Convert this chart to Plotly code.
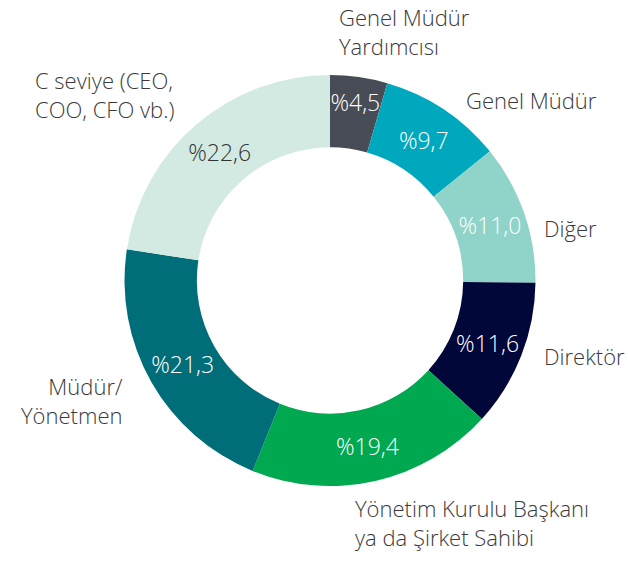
import plotly.graph_objects as go

categories = ["Genel Müdür Yardımcısı", "Genel Müdür", "Diğer", "Direktör",
              "Yönetim Kurulu Başkanı ya da Şirket Sahibi", "Müdür/Yönetmen",
              "C seviye (CEO, COO, CFO vb.)"]
values = [4.5, 9.7, 11.0, 11.6, 19.4, 21.3, 22.6]
colors = ["#474c56", "#00a8bd", "#8fd3c9", "#02073a", "#00a94f", "#006e78", "#d3eae3"]
text_colors = ["white", "white", "white", "white", "white", "white", "#333333"]
outer_labels = ["Genel Müdür<br>Yardımcısı", "Genel Müdür", "Diğer", "Direktör",
                "Yönetim Kurulu Başkanı<br>ya da Şirket Sahibi", "Müdür/<br>Yönetmen",
                "C seviye (CEO,<br>COO, CFO vb.)"]

pct_text = ["%" + f"{v:.1f}".replace(".", ",") for v in values]

W, H = 628, 562
cx, cy, R = 330, 280.5, 205.5

fig = go.Figure(go.Pie(
    labels=categories, values=values, text=pct_text, textinfo="text",
    textposition="inside", insidetextorientation="horizontal",
    sort=False, direction="clockwise", rotation=0, hole=0.648,
    marker=dict(colors=colors, line=dict(width=0)),
    insidetextfont=dict(family="Open Sans", size=23, color=text_colors, weight=300),
    domain=dict(x=[(cx - R) / W, (cx + R) / W], y=[(H - cy - R) / H, (H - cy + R) / H]),
    showlegend=False, hoverinfo="label+value",
))

# outside label placement (x, y in pixels, anchor)
label_pos = [
    (337, 0, "left"),
    (464, 83, "left"),
    (542, 211, "left"),
    (542, 339, "left"),
    (353, 491, "left"),
    (125, 369, "right"),
    (33, 63, "left"),
]
for lab, (x, y, anc) in zip(outer_labels, label_pos):
    fig.add_annotation(x=x / W, y=1 - y / H, xref="paper", yref="paper",
                       text=lab, showarrow=False, xanchor=anc, yanchor="top",
                       align=anc,
                       font=dict(family="Open Sans", size=22, color="#3a3a3a", weight=300))

fig.update_layout(width=W, height=H, margin=dict(l=0, r=0, t=0, b=0),
                  paper_bgcolor="white", plot_bgcolor="white",
                  uniformtext=dict(minsize=23, mode="show"))
fig.write_html("out.html", config={"displayModeBar": False},
               post_script="document.body.style.margin='0';")
